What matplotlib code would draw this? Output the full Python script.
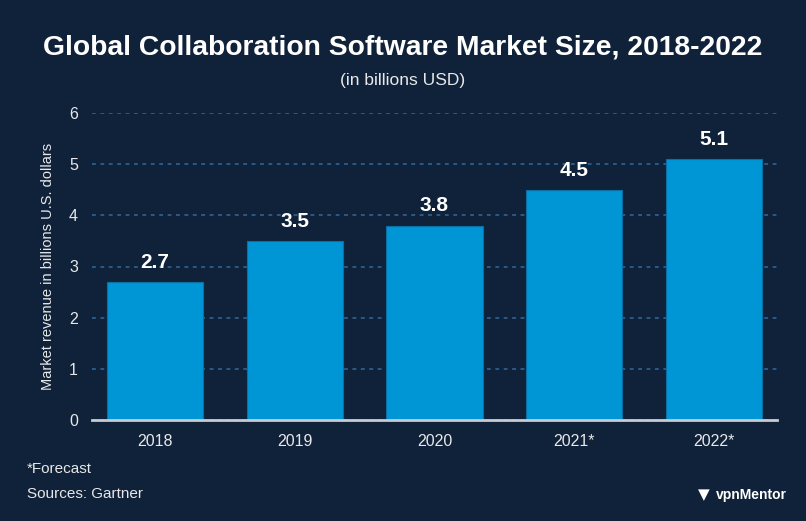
import matplotlib.pyplot as plt

years = ['2018', '2019', '2020', '2021*', '2022*']
revenue = [2.7, 3.5, 3.8, 4.5, 5.1]
yticks = [0, 1, 2, 3, 4, 5, 6]

bg = '#10223a'
bar_color = '#0096d6'

plt.rcParams['font.family'] = ['Liberation Sans', 'DejaVu Sans']

fig = plt.figure(figsize=(8.06, 5.21), dpi=100, facecolor=bg)
ax = fig.add_axes([92 / 806, 1 - 420 / 521, (777 - 92) / 806, (420 - 113) / 521])
ax.set_facecolor(bg)

x = range(len(years))
ax.bar(x, revenue, width=0.687, color=bar_color, edgecolor='#0a6fa3', linewidth=0.8, zorder=3)
for i, v in enumerate(revenue):
    ax.text(i, v + 0.2, '%.1f' % v, ha='center', va='bottom', color='white',
            fontsize=15, fontweight='bold')

ax.set_xlim(-0.45, 4.45)
ax.set_ylim(0, 6)
ax.set_yticks(yticks)
ax.set_xticks(list(x))
ax.set_xticklabels(years)
ax.tick_params(colors='#e8e8e8', labelsize=11.5, length=0)
ax.tick_params(axis='y', pad=10)
ax.tick_params(axis='x', pad=10)
ax.yaxis.grid(True, color='#2e6a9c', linestyle=(0, (2.5, 3)), linewidth=1.1, zorder=0)
for s in ['top', 'right', 'left']:
    ax.spines[s].set_visible(False)
ax.spines['bottom'].set_color('#c8ccd2')
ax.spines['bottom'].set_linewidth(2)
ax.spines['bottom'].set_zorder(4)
ax.set_ylabel('Market revenue in billions U.S. dollars', color='#e8e8e8', fontsize=10.5, labelpad=10)

fig.text(0.5, 1 - 47 / 521, 'Global Collaboration Software Market Size, 2018-2022',
         ha='center', va='center', color='white', fontsize=20.3, fontweight='bold')
fig.text(0.5, 1 - 80 / 521, '(in billions USD)', ha='center', va='center',
         color='#e8e8e8', fontsize=12.5)
fig.text(27 / 806, 1 - 469 / 521, '*Forecast', ha='left', va='center', color='#e8e8e8', fontsize=11)
fig.text(27 / 806, 1 - 494 / 521, 'Sources: Gartner', ha='left', va='center', color='#e8e8e8', fontsize=11)
fig.text(716 / 806, 1 - 495 / 521, 'vpnMentor', ha='left', va='center', color='white',
         fontsize=10, fontweight='bold')
fig.text(704 / 806, 1 - 495 / 521, '\u25bc', ha='center', va='center', color='white', fontsize=11,
         family=['DejaVu Sans'])

fig.savefig('out.png', dpi=100, facecolor=bg, edgecolor='#9a9a9a')
